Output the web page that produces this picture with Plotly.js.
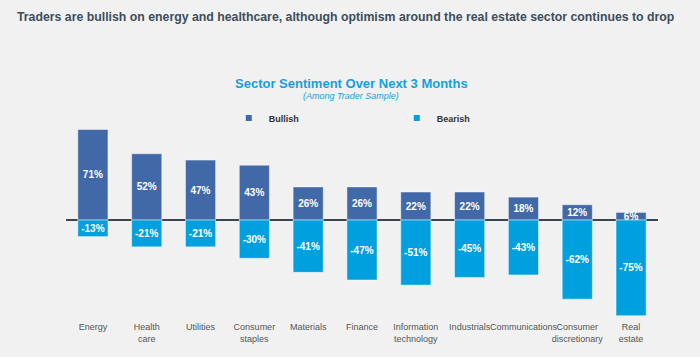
<!DOCTYPE html>
<html><head><meta charset="utf-8">
<script src="https://cdn.plot.ly/plotly-3.0.1.min.js"></script>
<style>html,body{margin:0;padding:0;background:#f1f1f1;}#chart{width:700px;height:357px;}</style>
</head><body><div id="chart"></div>
<script>
const categories = ["Energy","Health<br>care","Utilities","Consumer<br>staples","Materials","Finance","Information<br>technology","Industrials","Communications","Consumer<br>discretionary","Real<br>estate"];
const bullish = [71,52,47,43,26,26,22,22,18,12,6];
const bearish = [-13,-21,-21,-30,-41,-47,-51,-45,-43,-62,-75];
const colBull = "#4169a8", colBear = "#00a0de";
const pct = a => a.map(v => v + "%");
const labelFont = {color:"#ffffff", size:10, family:"Liberation Sans, Arial, sans-serif", weight:"bold"};

const traces = [
  {type:"bar", x:categories, y:bullish, name:"Bullish", marker:{color:colBull, line:{color:"rgba(255,255,255,0.6)", width:0.8}},
   text:pct(bullish), textposition:"inside", insidetextanchor:"middle", textangle:0,
   textfont:labelFont, showlegend:false, hoverinfo:"x+y"},
  {type:"bar", x:categories, y:bearish, name:"Bearish", marker:{color:colBear, line:{color:"rgba(255,255,255,0.6)", width:0.8}},
   text:pct(bearish), textposition:"inside", insidetextanchor:"middle", textangle:0,
   textfont:labelFont, showlegend:false, hoverinfo:"x+y"},
  {type:"scatter", mode:"markers", x:[null], y:[null], name:"Bullish", marker:{symbol:"square", size:6, color:colBull}},
  {type:"scatter", mode:"markers", x:[null], y:[null], name:"Bearish", marker:{symbol:"square", size:6, color:colBear}}
];

const layout = {
  width:700, height:357,
  paper_bgcolor:"#f1f1f1", plot_bgcolor:"#f1f1f1",
  margin:{l:66, r:42, t:118, b:40},
  barmode:"relative", bargap:0.44,
  uniformtext:{minsize:10, mode:"show"},
  font:{family:"Liberation Sans, Arial, sans-serif", color:"#555"},
  xaxis:{type:"category", range:[-0.5,10.5], showgrid:false, showline:false, zeroline:false, ticks:"", ticklen:0,
         tickfont:{size:9, color:"#555"}, fixedrange:true, tickangle:0, ticklabelstandoff:3},
  yaxis:{range:[-76,80], showgrid:false, showticklabels:false, zeroline:true, zerolinecolor:"#3b4650", zerolinewidth:2, ticks:""},
  showlegend:true,
  legend:{orientation:"h", x:0.275, y:1.0, xanchor:"left", yanchor:"middle", bgcolor:"rgba(0,0,0,0)",
          itemwidth:30, entrywidth:123, entrywidthmode:"pixels", font:{size:9, color:"#333", weight:"bold"}},
  annotations:[
    {xref:"paper", yref:"paper", xanchor:"left", yanchor:"middle", x:(15-66)/592, y:(317-17)/199, text:"Traders are bullish on energy and healthcare, although optimism around the real estate sector continues to drop",
     showarrow:false, font:{family:"Liberation Sans, Arial, sans-serif", size:12.3, color:"#3d4d5c", weight:"bold"}},
    {xref:"paper", yref:"paper", xanchor:"center", yanchor:"middle", x:(351-66)/592, y:(317-83)/199, text:"Sector Sentiment Over Next 3 Months",
     showarrow:false, font:{family:"Liberation Sans, Arial, sans-serif", size:13, color:"#159fdc", weight:"bold"}},
    {xref:"paper", yref:"paper", xanchor:"center", yanchor:"middle", x:(351-66)/592, y:(317-95.5)/199, text:"<i>(Among Trader Sample)</i>",
     showarrow:false, font:{family:"Liberation Sans, Arial, sans-serif", size:9, color:"#159fdc"}}
  ]
};
Plotly.newPlot("chart", traces, layout, {displayModeBar:false, staticPlot:true});
</script></body></html>
